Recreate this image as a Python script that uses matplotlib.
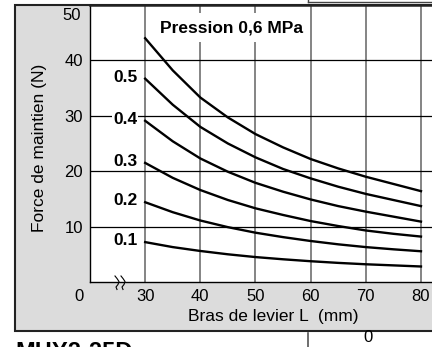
import numpy as np
import matplotlib
matplotlib.use('Agg')
import matplotlib.pyplot as plt
from matplotlib.patches import Rectangle
from matplotlib.lines import Line2D

plt.rcParams['font.family'] = ['Liberation Sans', 'DejaVu Sans']

# Données (bras de levier en mm, force en N)
bras_levier = [30, 35, 40, 45, 50, 55, 60, 65, 70, 75, 80]
pressions = ['0.1', '0.2', '0.3', '0.4', '0.5', '0.6']
force_01 = [7.2, 6.3, 5.6, 5.0, 4.5, 4.1, 3.75, 3.45, 3.2, 3.0, 2.8]
force_02 = [14.4, 12.6, 11.1, 9.9, 8.9, 8.1, 7.4, 6.8, 6.3, 5.9, 5.55]
force_03 = [21.5, 18.8, 16.6, 14.8, 13.3, 12.1, 11.0, 10.1, 9.3, 8.7, 8.2]
force_04 = [29.1, 25.4, 22.3, 19.9, 17.9, 16.3, 14.9, 13.7, 12.7, 11.8, 10.9]
force_05 = [36.7, 32.0, 28.0, 25.0, 22.5, 20.4, 18.7, 17.2, 15.9, 14.8, 13.7]
force_06 = [44.0, 38.2, 33.3, 29.7, 26.7, 24.3, 22.2, 20.5, 19.0, 17.7, 16.4]
forces = [force_01, force_02, force_03, force_04, force_05, force_06]

x_ticks = [30, 40, 50, 60, 70, 80]
y_ticks = [10, 20, 30, 40]

W, H = 432, 347


def fx(px):
    return px / W


def fy(py):
    return 1 - py / H


fig = plt.figure(figsize=(W / 100, H / 100), dpi=100)
fig.patch.set_facecolor('white')

# Cadre gris du catalogue
fig.patches.append(Rectangle((fx(15), fy(331)), 1.2, (331 - 5) / H,
                             transform=fig.transFigure, facecolor='#dcdcdc',
                             edgecolor='#222222', lw=1.5, zorder=0))

ax = fig.add_axes([fx(90), fy(282), (W - 90) / W, 277 / H])
ax.set_facecolor('white')
ax.set_zorder(1)
ax.set_xlim(20, 82)
ax.set_ylim(0, 50)

ax.set_xticks(x_ticks)
ax.set_yticks(y_ticks)
ax.tick_params(axis='both', length=0, labelsize=12)
ax.tick_params(axis='y', pad=5)
ax.tick_params(axis='x', pad=5)

for xv in x_ticks:
    ax.axvline(xv, color='#707070', lw=1.2, zorder=1)
for yv in y_ticks:
    ax.axhline(yv, color='black', lw=0.9, zorder=1)

ax.spines['right'].set_visible(False)
ax.spines['left'].set_linewidth(1.0)
ax.spines['bottom'].set_linewidth(1.0)
ax.spines['top'].set_linewidth(1.8)
ax.spines['top'].set_color('#222222')

for p, f in zip(pressions, forces):
    ax.plot(bras_levier, f, color='black', lw=1.7, zorder=3)
    if p != '0.6':
        ax.text(28.6, f[0] + 0.3, p, ha='right', va='center', fontsize=12.5,
                fontweight='bold', zorder=4,
                bbox=dict(boxstyle='square,pad=0.05', fc='white', ec='none'))

ax.text(45.7, 45.9, 'Pression 0,6 MPa', ha='center', va='center',
        fontsize=12.5, fontweight='bold', zorder=4,
        bbox=dict(boxstyle='square,pad=0.4', fc='white', ec='none'))

# Textes autour du graphique
fig.text(fx(72), fy(15), '50', ha='center', va='center', fontsize=12)
fig.text(fx(273), fy(316.5), 'Bras de levier L  (mm)', ha='center',
         va='center', fontsize=12.5)
fig.text(fx(40), fy(148), 'Force de maintien (N)', ha='center', va='center',
         rotation=90, fontsize=12.5)
fig.text(fx(79), fy(296.5), '0', ha='center', va='center', fontsize=12)

# Symbole de coupure d'axe
for x0 in (115, 121):
    pts = np.array([[0, 0], [2, 2.5], [4, 5.5], [3, 8.5], [1, 11], [2, 13.5]])
    fig.add_artist(Line2D(fx(x0 + pts[:, 0]), fy(276 + pts[:, 1]),
                          transform=fig.transFigure, color='black', lw=0.8,
                          zorder=5))

# Morceaux des graphiques voisins
fig.text(fx(15), fy(341), 'MHY2-25D', ha='left', va='top', fontsize=17,
         fontweight='bold')
fig.add_artist(Line2D([fx(308), fx(308)], [fy(333), fy(347)],
                      transform=fig.transFigure, color='#555555', lw=1.2))
fig.text(fx(368), fy(337.5), '0', ha='center', va='center', fontsize=12)
fig.add_artist(Line2D([fx(308), fx(432)], [fy(1.5), fy(1.5)],
                      transform=fig.transFigure, color='#444444', lw=1.0))
fig.add_artist(Line2D([fx(308), fx(308)], [fy(0), fy(2)],
                      transform=fig.transFigure, color='#444444', lw=1.0))

fig.savefig('out.png', dpi=100)
